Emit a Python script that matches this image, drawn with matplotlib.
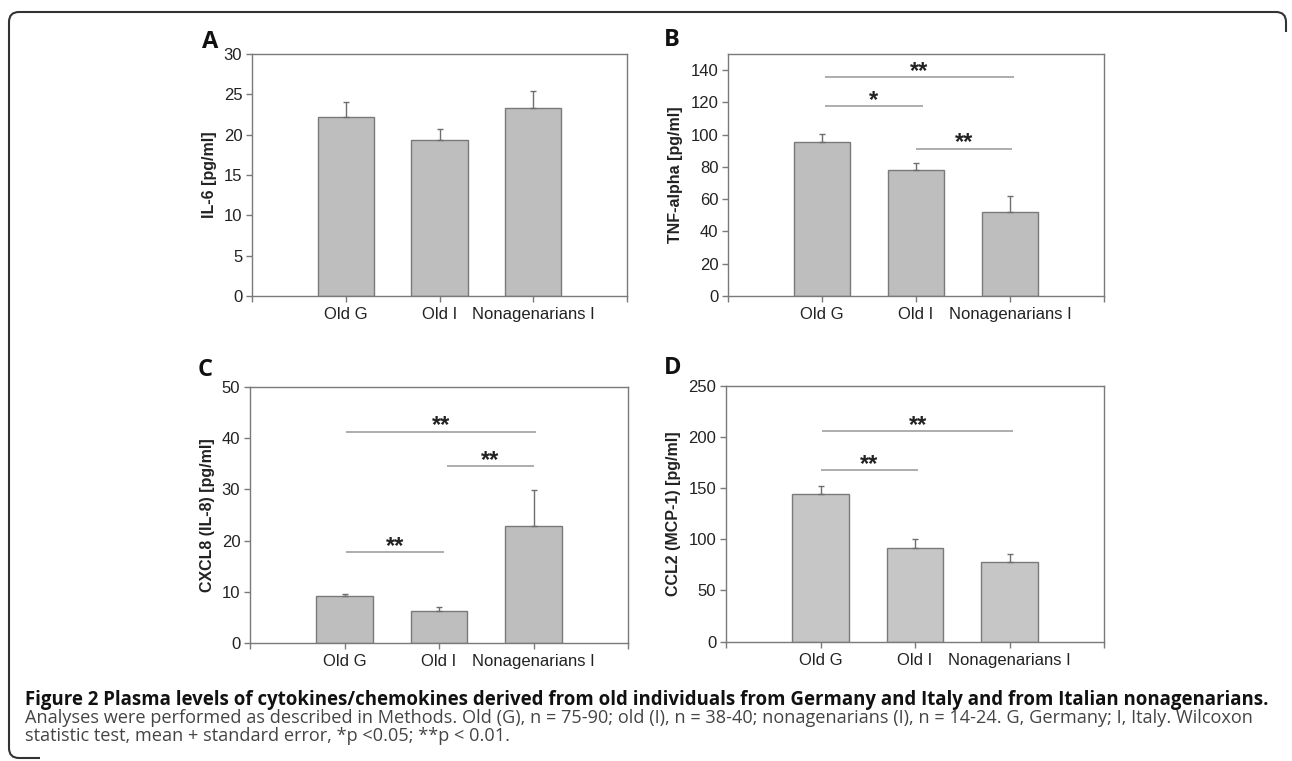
import matplotlib.pyplot as plt
from matplotlib.path import Path
from matplotlib.patches import PathPatch

# data
groups = ['Old G', 'Old I', 'Nonagenarians I']

il6_mean = [22.2, 19.3, 23.3]
il6_se = [1.9, 1.35, 2.1]

tnf_mean = [95.3, 78.0, 52.3]
tnf_se = [5.1, 4.6, 9.6]

cxcl8_mean = [9.1, 6.2, 22.8]
cxcl8_se = [0.5, 0.75, 7.1]

ccl2_mean = [144.5, 91.0, 77.3]
ccl2_se = [7.8, 9.5, 8.5]

# significance bars: (from, to, height, label)
tnf_sig = [(1.03, 3.04, 136, '**'), (1.03, 2.07, 117.5, '*'), (2.0, 3.02, 91.4, '**')]
cxcl8_sig = [(1.02, 3.03, 41.3, '**'), (2.08, 3.0, 34.6, '**'), (1.02, 2.05, 17.7, '**')]
ccl2_sig = [(1.02, 3.04, 206, '**'), (1.0, 2.03, 167.5, '**')]

W, H = 1292, 761
GRAY = '#7a7a7a'


def axes_px(fig, x0, y0, x1, y1):
    return fig.add_axes([x0 / W, 1 - y1 / H, (x1 - x0) / W, (y1 - y0) / H])


def panel(ax, means, ses, ylim, step, ylabel, sig, face='#bebebe'):
    x = [1, 2, 3]
    ax.bar(x, means, width=0.6, color=face, edgecolor='#7a7a7a', linewidth=1.0, zorder=2)
    ax.errorbar(x, means, yerr=[[0, 0, 0], ses], fmt='none', ecolor='#6e6e6e',
                elinewidth=1.0, capsize=2.5, capthick=1.0, zorder=3)
    ax.set_xlim(0, 4)
    ax.set_ylim(0, ylim)
    ticks = [t for t in range(0, int(ylim) + 1, step) if t <= ylim]
    ax.set_yticks(ticks)
    ax.set_xticks([0, 1, 2, 3, 4])
    ax.set_xticklabels([''] + groups + [''])
    for s in ax.spines.values():
        s.set_color(GRAY)
        s.set_linewidth(1.0)
    ax.tick_params(axis='both', colors=GRAY, length=4, width=1.0, labelsize=12,
                   labelcolor='#222222', direction='out')
    ax.tick_params(axis='x', pad=4)
    ax.tick_params(axis='y', pad=3)
    for lab in ax.get_xticklabels() + ax.get_yticklabels():
        lab.set_family('Liberation Sans')
    ax.set_ylabel(ylabel, fontsize=11.5, fontweight='bold', family='Liberation Sans',
                  color='#222222', labelpad=5)
    for x1, x2, y, lab in sig:
        ax.plot([x1, x2], [y, y], color='#a0a0a0', linewidth=1.2, zorder=1,
                solid_capstyle='butt')
        ax.annotate(lab, ((x1 + x2) / 2, y), xytext=(0, 4), textcoords='offset points',
                    ha='center', va='center', fontsize=17, fontweight='bold',
                    family='Liberation Sans', color='#222222')


fig = plt.figure(figsize=(W / 100, H / 100), dpi=100)

axA = axes_px(fig, 252, 54, 627, 296)
panel(axA, il6_mean, il6_se, 30, 5, 'IL-6 [pg/ml]', [])
axB = axes_px(fig, 728, 54, 1104, 296)
panel(axB, tnf_mean, tnf_se, 150, 20, 'TNF-alpha [pg/ml]', tnf_sig)
axC = axes_px(fig, 250, 387, 628, 643)
panel(axC, cxcl8_mean, cxcl8_se, 50, 10, 'CXCL8 (IL-8) [pg/ml]', cxcl8_sig)
axD = axes_px(fig, 726, 386, 1104, 641.5)
panel(axD, ccl2_mean, ccl2_se, 250, 50, 'CCL2 (MCP-1) [pg/ml]', ccl2_sig, face='#c6c6c6')

for lab, px, py in [('A', 210, 42), ('B', 672, 40), ('C', 205, 370), ('D', 673, 368)]:
    fig.text(px / W, 1 - py / H, lab, fontsize=17, fontweight='bold', family='Open Sans',
             ha='center', va='center', color='#111111')

# caption
fig.text(25 / W, 1 - 705 / H,
         'Figure 2 Plasma levels of cytokines/chemokines derived from old individuals '
         'from Germany and Italy and from Italian nonagenarians.',
         fontsize=13.4, fontweight='bold', family='Open Sans', color='#111111',
         ha='left', va='baseline')
fig.text(25 / W, 1 - 723 / H,
         'Analyses were performed as described in Methods. Old (G), n = 75-90; old (I), '
         'n = 38-40; nonagenarians (I), n = 14-24. G, Germany; I, Italy. Wilcoxon',
         fontsize=13.1, family='Open Sans', color='#444444', ha='left', va='baseline')
fig.text(25 / W, 1 - 741 / H,
         'statistic test, mean + standard error, *p <0.05; **p < 0.01.',
         fontsize=13.1, family='Open Sans', color='#444444', ha='left', va='baseline')

# frame round the figure: top edge with right corner, left edge with bottom corner
r = 10
verts = [(1286, 12 + r * 2), (1286, 12 + r), (1286, 12), (1286 - r, 12), (9 + r, 12),
         (9, 12), (9, 12 + r), (9, 758 - r), (9, 758), (9 + r, 758), (40, 758)]
codes = [Path.MOVETO, Path.LINETO, Path.CURVE3, Path.CURVE3, Path.LINETO,
         Path.CURVE3, Path.CURVE3, Path.LINETO, Path.CURVE3, Path.CURVE3, Path.LINETO]
verts = [(vx / W, 1 - vy / H) for vx, vy in verts]
fig.add_artist(PathPatch(Path(verts, codes), transform=fig.transFigure, fill=False,
                         edgecolor='#333333', linewidth=1.5))

fig.savefig('out.png', dpi=100)
